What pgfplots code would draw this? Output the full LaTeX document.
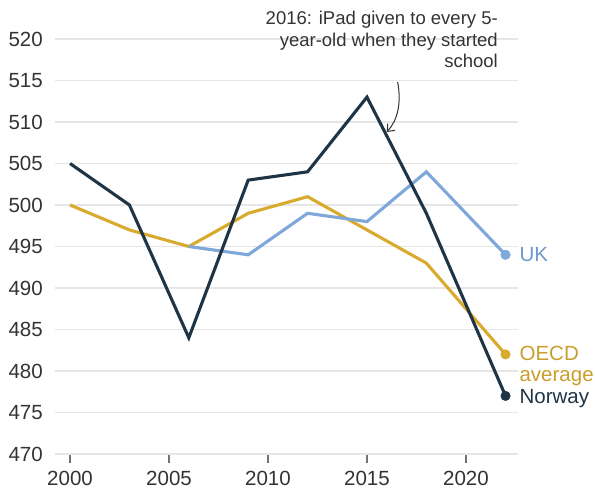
\documentclass[border=0pt]{standalone}
\usepackage{pgfplots}
\pgfplotsset{compat=1.18}
\usepackage{fontspec}
\setmainfont{Liberation Sans}
\usetikzlibrary{arrows.meta}
\definecolor{norway}{HTML}{1F3545}
\definecolor{uk}{HTML}{7FA8DA}
\definecolor{oecd}{HTML}{D8AA2E}
\definecolor{gridc}{HTML}{E6E6E6}
\definecolor{txt}{HTML}{333333}
\definecolor{uktxt}{HTML}{6E98CE}
\definecolor{oecdtxt}{HTML}{C99E2C}
\begin{document}
\begin{tikzpicture}
\useasboundingbox (0pt,0pt) rectangle (595pt,491pt);
\begin{axis}[
  at={(55pt,37pt)}, anchor=south west,
  scale only axis, width=463pt, height=415pt,
  xmin=1999.24, xmax=2022.63, ymin=470, ymax=520,
  axis lines=none,
  clip=false,
]
\pgfplotsinvokeforeach{470,475,...,520}{
  \draw[gridc, line width=1.2pt] (axis cs:1999.24,#1) -- (axis cs:2022.63,#1);
  \node[anchor=east, text=txt, font=\fontsize{20.5}{22}\selectfont, inner sep=0pt] at ([xshift=-12pt]axis cs:1999.24,#1) {#1};
}
\pgfplotsinvokeforeach{2000,2005,2010,2015,2020}{
  \draw[black!55, line width=1.3pt] ([yshift=-1pt]axis cs:#1,470) -- ([yshift=-8.5pt]axis cs:#1,470);
  \node[anchor=north, text=txt, font=\fontsize{20.5}{22}\selectfont, inner sep=0pt] at ([yshift=-16.5pt]axis cs:#1,470) {#1};
}
\addplot[oecd, line width=3.1pt] coordinates {(2000,500) (2003,497) (2006,495) (2009,499) (2012,501) (2015,497) (2018,493) (2022,482)};
\addplot[uk, line width=3.1pt] coordinates {(2006,495) (2009,494) (2012,499) (2015,498) (2018,504) (2022,494)};
\addplot[norway, line width=3.1pt] coordinates {(2000,505) (2003,500) (2006,484) (2009,503) (2012,504) (2015,513) (2018,499) (2022,477)};
\addplot[only marks, mark=*, mark size=4.8pt, oecd] coordinates {(2022,482)};
\addplot[only marks, mark=*, mark size=4.8pt, uk] coordinates {(2022,494)};
\addplot[only marks, mark=*, mark size=4.8pt, norway] coordinates {(2022,477)};
\node[anchor=west, text=uktxt, font=\fontsize{20.5}{22}\selectfont, inner sep=0pt] at (axis cs:2022.7,494) {UK};
\node[anchor=west, text=oecdtxt, font=\fontsize{20.5}{22}\selectfont, inner sep=0pt] at (axis cs:2022.7,482.1) {OECD};
\node[anchor=west, text=oecdtxt, font=\fontsize{20.5}{22}\selectfont, inner sep=0pt] at (axis cs:2022.7,479.15) {average};
\node[anchor=west, text=norway, font=\fontsize{20.5}{22}\selectfont, inner sep=0pt] at (axis cs:2022.7,476.65) {Norway};
\draw[txt, line width=1pt, -{Straight Barb[length=6pt,width=10pt]}] (axis cs:2016.55,514.8) .. controls (axis cs:2016.75,512.3) and (axis cs:2016.55,510.2) .. (axis cs:2016.0,508.8);
\end{axis}
\node[anchor=north east, align=right, text=txt, font=\fontsize{18.5}{21.5}\selectfont, inner sep=0pt] at (498pt,480pt) {2016: iPad given to every 5-\\year-old when they started\\school};
\end{tikzpicture}
\end{document}
